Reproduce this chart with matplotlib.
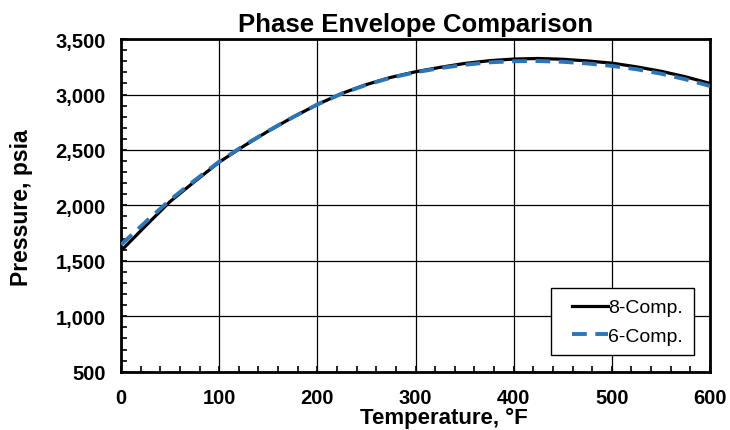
import matplotlib
matplotlib.use("Agg")
import matplotlib.pyplot as plt
from matplotlib.lines import Line2D
from matplotlib.legend_handler import HandlerLine2D
from matplotlib.ticker import MultipleLocator, FuncFormatter

plt.rcParams['font.family'] = ['Liberation Sans', 'DejaVu Sans']

# Temperature, degF
temp = [0, 25, 50, 75, 100, 125, 150, 175, 200, 225, 250, 275, 300,
        325, 350, 375, 400, 425, 450, 475, 500, 525, 550, 575, 600]
# Pressure, psia
p_8comp = [1590, 1815, 2035, 2215, 2390, 2535, 2670, 2795, 2910, 3010, 3090, 3155, 3205,
           3245, 3280, 3305, 3320, 3325, 3318, 3303, 3283, 3250, 3210, 3160, 3100]
p_6comp = [1645, 1850, 2050, 2225, 2395, 2540, 2672, 2795, 2910, 3008, 3088, 3152, 3200,
           3238, 3268, 3290, 3300, 3302, 3295, 3280, 3258, 3228, 3188, 3137, 3077]

fig = plt.figure(figsize=(7.3, 4.31), dpi=100)
ax = fig.add_axes([0.1658, 0.1353, 0.8068, 0.7717])

ax.plot(temp, p_8comp, color='black', lw=2.3, label='8-Comp.', zorder=3)
ax.plot(temp, p_6comp, color='#2E75B6', lw=2.8, ls=(0, (3.8, 2.2)), label='6-Comp.', zorder=4)

ax.set_xlim(0, 600)
ax.set_ylim(500, 3500)
ax.xaxis.set_major_locator(MultipleLocator(100))
ax.xaxis.set_minor_locator(MultipleLocator(20))
ax.yaxis.set_major_locator(MultipleLocator(500))
ax.yaxis.set_minor_locator(MultipleLocator(100))
ax.yaxis.set_major_formatter(FuncFormatter(lambda v, pos: f"{int(v):,}"))

ax.grid(True, which='major', color='black', lw=0.9)
ax.tick_params(which='both', direction='in', top=False, right=False)
ax.tick_params(which='major', length=4, width=1.2, labelsize=14.5)
ax.tick_params(axis='y', pad=11)
ax.tick_params(axis='x', pad=12)
ax.tick_params(which='minor', length=4, width=1.2)
for lab in ax.get_xticklabels() + ax.get_yticklabels():
    lab.set_fontweight('bold')
for s in ax.spines.values():
    s.set_linewidth(2)

ax.set_title('Phase Envelope Comparison', fontsize=18.5, fontweight='bold', pad=6)
ax.set_xlabel('Temperature, °F', fontsize=16, fontweight='bold')
ax.xaxis.set_label_coords(0.548, -0.105)
ax.set_ylabel('Pressure, psia', fontsize=16.5, fontweight='bold')
ax.yaxis.set_label_coords(-0.15, 0.495)

# extra space left of the legend lines
leg = ax.legend(loc='lower right', bbox_to_anchor=(0.972, 0.049), borderaxespad=0,
                fontsize=14, fancybox=False, edgecolor='black', framealpha=1,
                handlelength=2.4, handletextpad=0.0, borderpad=0.55, labelspacing=0.55,
                handler_map={Line2D: HandlerLine2D(xpad=0.55)})
leg.get_frame().set_linewidth(1)

fig.savefig('out.png', dpi=100)
